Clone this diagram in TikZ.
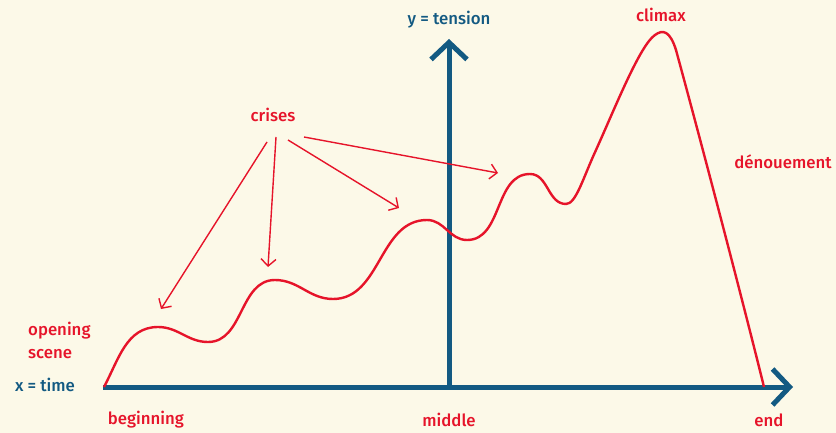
\documentclass[tikz,border=0pt]{standalone}
\usepackage{fontspec}
\setmainfont{Fira Sans}[UprightFont=* Medium]
\usepackage{xcolor}
\usepackage{tikz}
\usetikzlibrary{arrows.meta, positioning}
\definecolor{plotcream}{HTML}{FCF9E8}
\definecolor{plotblue}{HTML}{135A82}
\definecolor{plotred}{HTML}{E6142A}
\tikzset{
  axisline/.style={line width=5pt,plotblue,-{Straight Barb[length=17pt,width=36pt,line cap=butt]}},
  tensioncurve/.style={line width=2.4pt,plotred},
  crisisarrow/.style={line width=1.4pt,plotred,-{Straight Barb[length=7pt,width=15pt]}},
  redlbl/.style={text=plotred,font=\fontsize{16.8}{21}\selectfont,inner sep=0pt},
  bluelbl/.style={redlbl,text=plotblue},
}

\begin{document}
\begin{tikzpicture}[x=1pt,y=1pt]
  \useasboundingbox[fill=plotcream] (0,0) rectangle (836,-433);
  % axes
  \coordinate (origin) at (103,-387);
  \coordinate (xend) at (793,-387);
  \coordinate (ybase) at (449,-387);
  \coordinate (ytop) at (449,-39);
  \draw[axisline] (origin) -- (xend);
  \draw[axisline] (ybase) -- (ytop);
  % tension curve
  \draw[tensioncurve] (104,-387) to[out=62,in=180] (158,-327)
    to[out=0,in=180] (208,-342) to[out=0,in=180] (275,-280)
    to[out=0,in=180] (333,-299) to[out=0,in=180] (427,-220)
    to[out=0,in=180] (467,-240) to[out=0,in=180] (530,-174)
    to[out=0,in=180] (566,-204)
    .. controls (576,-204) and (583,-178) .. (596,-150)
    .. controls (615,-108) and (640,-45) .. (655,-35)
    .. controls (663,-29) and (670,-31) .. (676,-50)
    .. controls (700,-138) and (740,-290) .. (764,-387);
  % labels
  \node[bluelbl] (xlbl) at (45,-385) {x = time};
  \node[bluelbl] (ylbl) at (449,-20) {y = tension};
  \node[redlbl,anchor=west,align=left] (opening) at (28,-340) {opening\\[2pt]scene};
  \node[redlbl] (beginning) at (146,-420) {beginning};
  \node[redlbl] (middle) at (449,-420) {middle};
  \node[redlbl] (end) at (769,-420) {end};
  \node[redlbl] (climax) at (661,-15) {climax};
  \node[redlbl] (denouement) at (783,-162) {dénouement};
  \node[redlbl] (crises) at (273,-115) {crises};
  % crisis arrows
  \coordinate (cfrom1) at (267,-142);
  \coordinate (cfrom2) at (276,-137);
  \coordinate (cfrom3) at (288,-140);
  \coordinate (cfrom4) at (304,-137);
  \coordinate (cto1) at (161,-309);
  \coordinate (cto2) at (268,-267);
  \coordinate (cto3) at (399,-208);
  \coordinate (cto4) at (498,-173);
  \foreach \i in {1,...,4}
    \draw[crisisarrow] (cfrom\i) -- (cto\i);
\end{tikzpicture}
\end{document}
